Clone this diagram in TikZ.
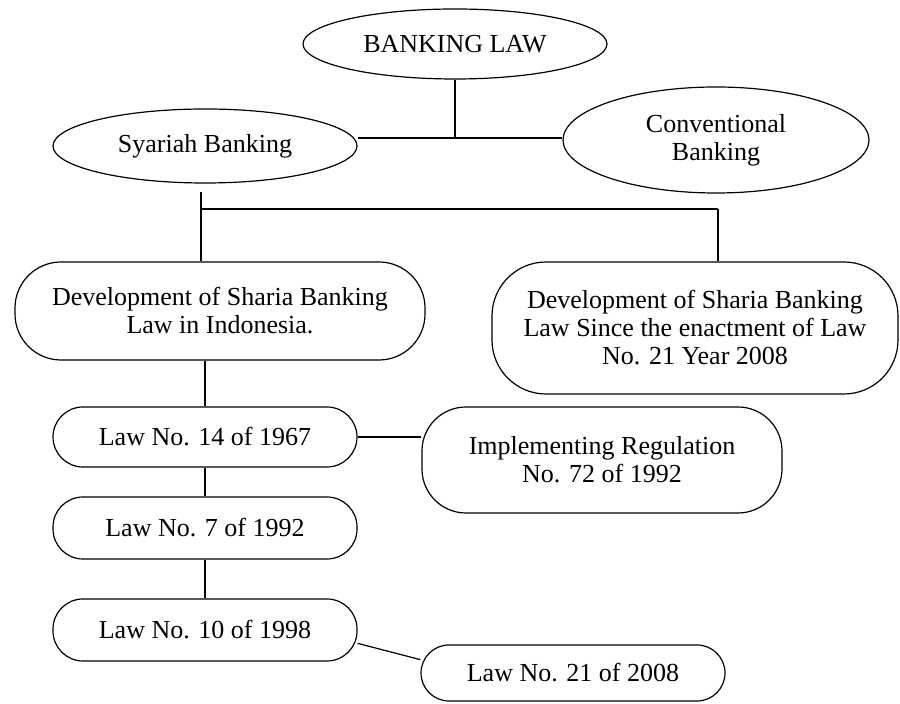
\documentclass[tikz,border=0pt]{standalone}
\usepackage{fontspec}
\setmainfont{Liberation Serif}
\usetikzlibrary{shapes.geometric}
\begin{document}
\begin{tikzpicture}[x=0.5pt,y=-0.5pt,line width=0.6pt,
  oval/.style={draw,ellipse,inner sep=0pt,align=center,font=\fontsize{13}{14}\selectfont},
  pill/.style={draw,rectangle,inner sep=0pt,align=center,font=\fontsize{13}{14}\selectfont}]
\useasboundingbox (0,0) rectangle (900,704);

% top level
\node[oval,minimum width=152pt,minimum height=35pt] (bankinglaw) at (455,44) {BANKING LAW};
\node[oval,minimum width=152pt,minimum height=37pt] (syariah) at (205,146) {Syariah Banking};
\node[oval,minimum width=153pt,minimum height=53pt] (conventional) at (716,140) {Conventional\\Banking};

% development
\node[pill,rounded corners=23pt,minimum width=205pt,minimum height=49pt] (devindo) at (220,311)
  {Development of Sharia Banking\\Law in Indonesia.};
\node[pill,rounded corners=27pt,minimum width=203pt,minimum height=66pt] (devsince) at (695,328)
  {Development of Sharia Banking\\Law Since the enactment of Law\\No. 21 Year 2008};

% laws
\node[pill,rounded corners=15pt,minimum width=152pt,minimum height=30pt] (law14) at (205,437) {Law No. 14 of 1967};
\node[pill,rounded corners=22pt,minimum width=180pt,minimum height=53pt] (implreg) at (602,460)
  {Implementing Regulation\\No. 72 of 1992};
\node[pill,rounded corners=15pt,minimum width=152pt,minimum height=31pt] (law7) at (205,528) {Law No. 7 of 1992};
\node[pill,rounded corners=15pt,minimum width=152pt,minimum height=31pt] (law10) at (205,630) {Law No. 10 of 1998};
\node[pill,rounded corners=14pt,minimum width=152pt,minimum height=28pt] (law21) at (573,673) {Law No. 21 of 2008};

% connectors
\coordinate (junction) at (455,138);
\coordinate (fork) at (201,209);
\coordinate (forkright) at (718,209);
\draw (bankinglaw) -- (junction);
\draw (syariah.east |- junction) -- (conventional.west |- junction);
\draw ([yshift=-4pt]syariah.south -| fork) -- (fork) -- (forkright);
\draw (fork) -- (fork |- devindo.north);
\draw (forkright) -- (forkright |- devsince.north);
\draw (devindo.south -| law14.north) -- (law14.north);
\draw (law14.east) -- (implreg.west |- law14.east);
\draw (law14) -- (law7);
\draw (law7) -- (law10);
\draw (law10.-5) -- (law21.175);
\end{tikzpicture}
\end{document}
